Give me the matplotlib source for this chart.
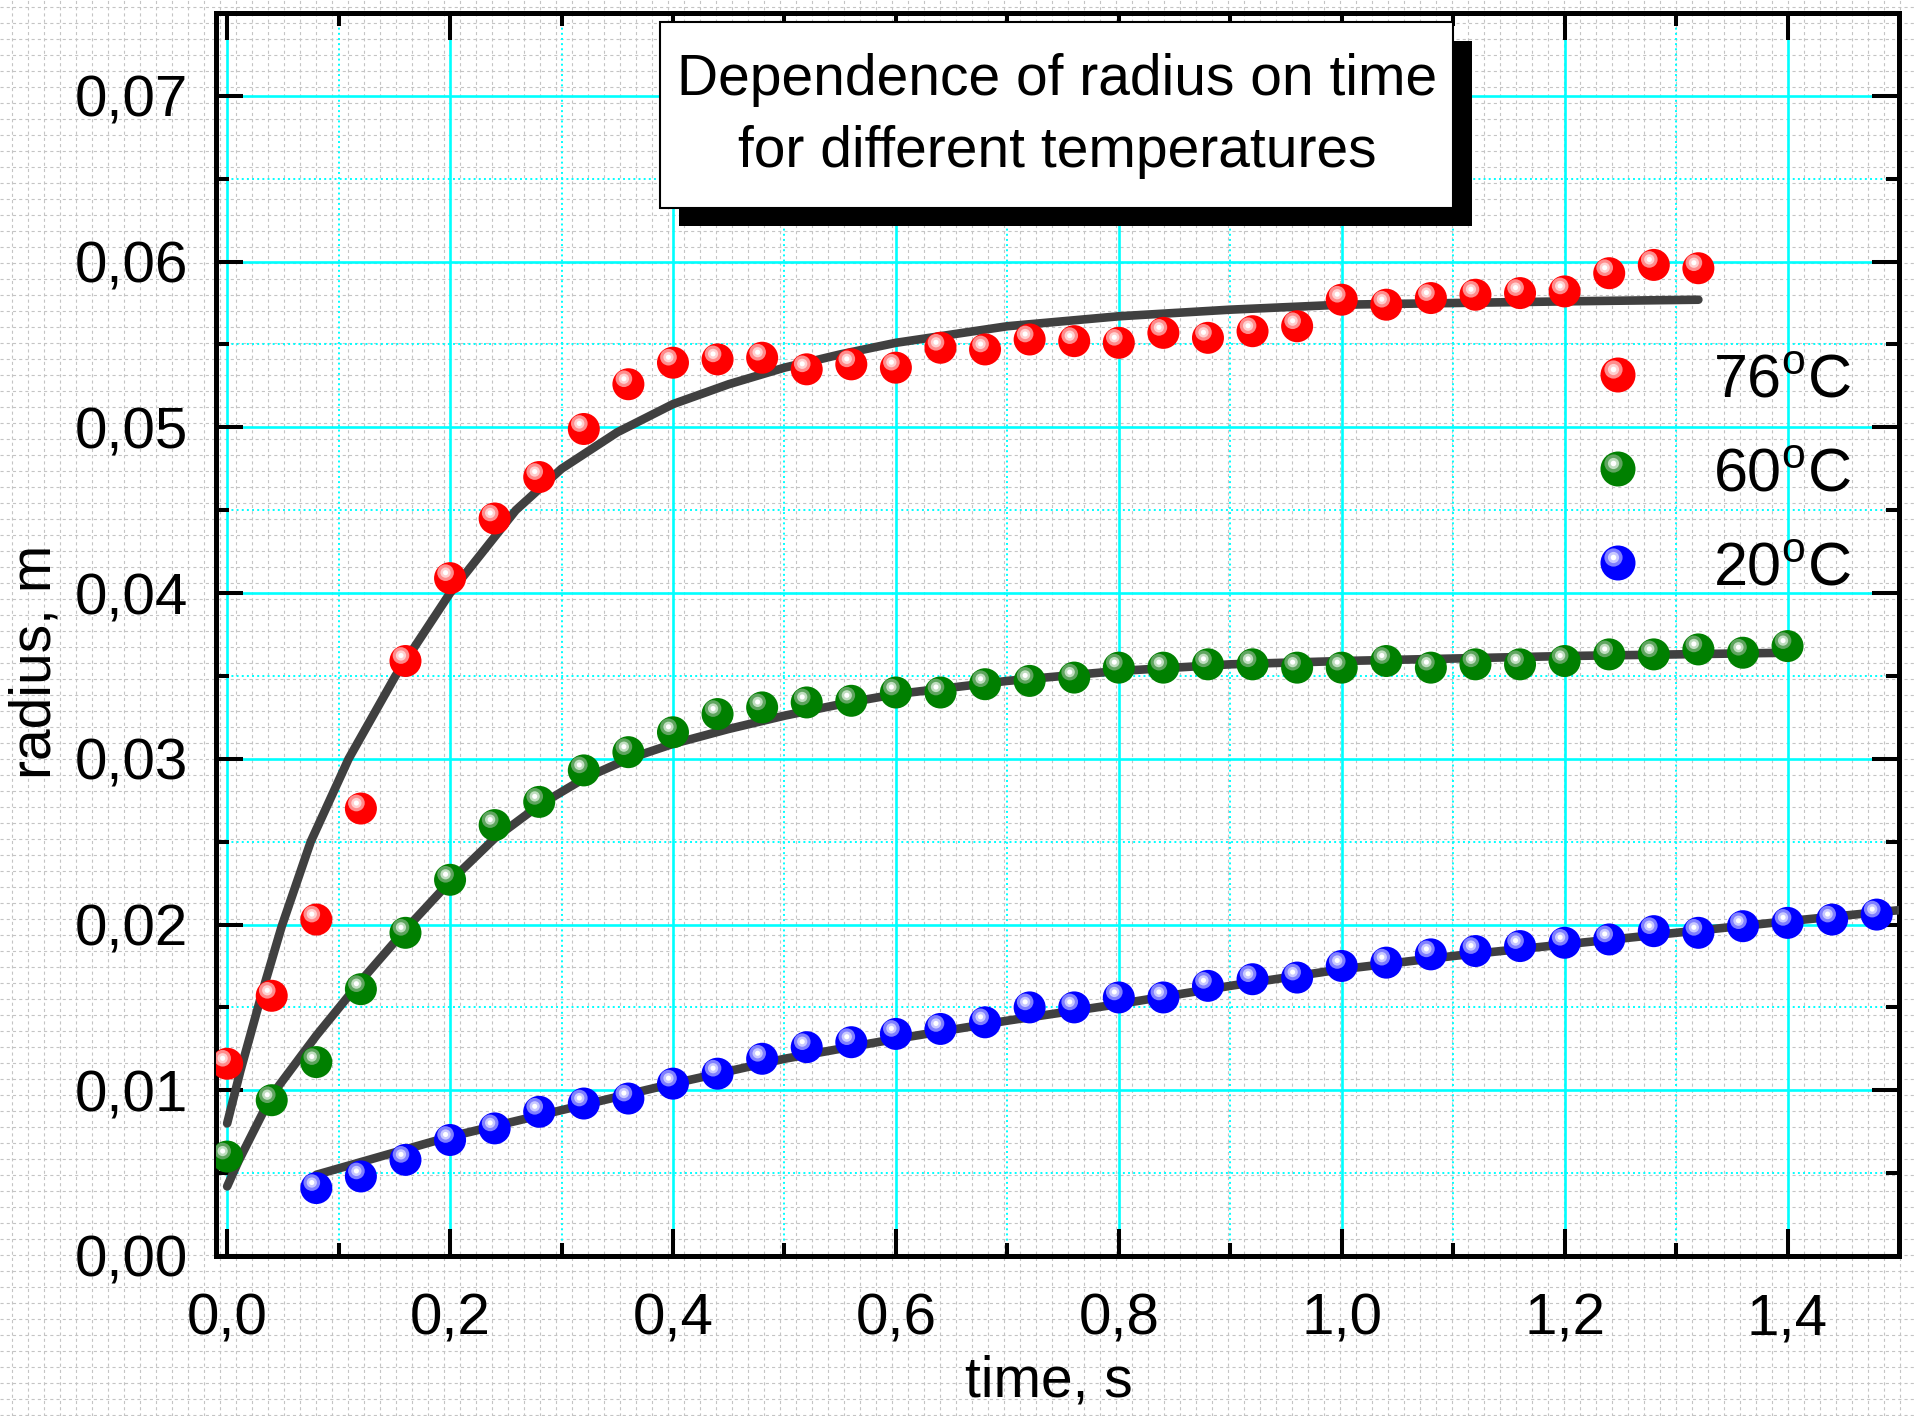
import numpy as np
import matplotlib
matplotlib.use('Agg')
import matplotlib.pyplot as plt
from matplotlib import transforms
from matplotlib.ticker import MultipleLocator
from matplotlib.patches import Rectangle

plt.rcParams['font.family'] = ['Liberation Sans', 'DejaVu Sans']
plt.rcParams['mathtext.fontset'] = 'custom'
plt.rcParams['mathtext.rm'] = 'Liberation Sans'

# ---------------- data ----------------
times = [0.00, 0.04, 0.08, 0.12, 0.16, 0.20, 0.24, 0.28, 0.32, 0.36, 0.40, 0.44,
         0.48, 0.52, 0.56, 0.60, 0.64, 0.68, 0.72, 0.76, 0.80, 0.84, 0.88, 0.92,
         0.96, 1.00, 1.04, 1.08, 1.12, 1.16, 1.20, 1.24, 1.28, 1.32, 1.36, 1.40,
         1.44, 1.48]

r76 = [0.0116, 0.0157, 0.0203, 0.0270, 0.0359, 0.0409, 0.0445, 0.0470, 0.0499,
       0.0526, 0.0539, 0.0541, 0.0542, 0.0535, 0.0538, 0.0536, 0.0548, 0.0547,
       0.0553, 0.0552, 0.0551, 0.0557, 0.0554, 0.0558, 0.0561, 0.0577, 0.0574,
       0.0578, 0.0580, 0.0581, 0.0582, 0.0593, 0.0598, 0.0596]
t76 = times[:34]

r60 = [0.0060, 0.0094, 0.0117, 0.0161, 0.0195, 0.0227, 0.0260, 0.0274, 0.0293,
       0.0304, 0.0316, 0.0327, 0.0331, 0.0334, 0.0335, 0.0340, 0.0340, 0.0345,
       0.0347, 0.0349, 0.0355, 0.0355, 0.0357, 0.0357, 0.0355, 0.0355, 0.0359,
       0.0355, 0.0357, 0.0357, 0.0359, 0.0363, 0.0363, 0.0366, 0.0364, 0.0368]
t60 = times[:36]

r20 = [0.0041, 0.0048, 0.0058, 0.0070, 0.0077, 0.0087, 0.0092, 0.0095, 0.0104,
       0.0110, 0.0119, 0.0126, 0.0129, 0.0134, 0.0137, 0.0141, 0.0150, 0.0150,
       0.0156, 0.0156, 0.0163, 0.0167, 0.0168, 0.0175, 0.0177, 0.0182, 0.0184,
       0.0187, 0.0189, 0.0191, 0.0196, 0.0195, 0.0199, 0.0201, 0.0203, 0.0206]
t20 = times[2:38]

# fitted curves
fit76_t = [0.000, 0.012, 0.031, 0.049, 0.075, 0.109, 0.151, 0.200, 0.259, 0.300,
           0.350, 0.400, 0.450, 0.500, 0.550, 0.600, 0.700, 0.800, 0.900, 1.000,
           1.100, 1.200, 1.320]
fit76_r = [0.0080, 0.0112, 0.0158, 0.0199, 0.0250, 0.0300, 0.0350, 0.0400, 0.0450,
           0.0475, 0.0497, 0.0514, 0.0526, 0.0536, 0.0544, 0.0551, 0.0561, 0.0567,
           0.0571, 0.0574, 0.0575, 0.0576, 0.0577]

fit60_t = [0.000, 0.010, 0.040, 0.080, 0.120, 0.160, 0.200, 0.240, 0.280, 0.320,
           0.360, 0.400, 0.450, 0.500, 0.558, 0.600, 0.700, 0.800, 0.900, 1.000,
           1.200, 1.400]
fit60_r = [0.0042, 0.0057, 0.0097, 0.0133, 0.0166, 0.0197, 0.0226, 0.0252, 0.0272,
           0.0288, 0.0300, 0.0309, 0.0318, 0.0326, 0.0334, 0.0339, 0.0347, 0.0353,
           0.0357, 0.0359, 0.0362, 0.0364]

fit20_t = [0.08, 0.20, 0.30, 0.40, 0.50, 0.60, 0.70, 0.80, 0.90, 1.00, 1.10,
           1.20, 1.30, 1.40, 1.52]
fit20_r = [0.0049, 0.0072, 0.0088, 0.0104, 0.0119, 0.0131, 0.0142, 0.0152, 0.0163,
           0.0173, 0.0181, 0.0188, 0.0195, 0.0202, 0.0210]

xticks = [0.0, 0.2, 0.4, 0.6, 0.8, 1.0, 1.2, 1.4]
xtick_labels = ['0,0', '0,2', '0,4', '0,6', '0,8', '1,0', '1,2', '1,4']
yticks = [0.00, 0.01, 0.02, 0.03, 0.04, 0.05, 0.06, 0.07]
ytick_labels = ['0,00', '0,01', '0,02', '0,03', '0,04', '0,05', '0,06', '0,07']

legend_labels = [r'76$^{\mathregular{o}}$C', r'60$^{\mathregular{o}}$C', r'20$^{\mathregular{o}}$C']
title_lines = ['Dependence of radius on time', 'for different temperatures']

# colours: base, highlight ring, inner highlight
styles = {
    '76': ('#FF0000', '#FF8C8C', '#FFD0D0'),
    '60': ('#008000', '#5FA55F', '#BFDDBF'),
    '20': ('#0000FF', '#8080FF', '#C8C8FF'),
}

# ---------------- figure ----------------
W, H = 1915, 1416
fig = plt.figure(figsize=(W / 100, H / 100), dpi=100)
fig.patch.set_facecolor('white')

# graph-paper background
bg = fig.add_axes([0, 0, 1, 1], zorder=0)
bg.set_xlim(0, W)
bg.set_ylim(H, 0)
bg.xaxis.set_major_locator(MultipleLocator(16, offset=11.7))
bg.yaxis.set_major_locator(MultipleLocator(16, offset=6.7))
bg.grid(True, color='#c4c4c4', lw=0.8, ls=(0, (2.8, 2.8)))
bg.tick_params(length=0, labelbottom=False, labelleft=False)
for s in bg.spines.values():
    s.set_visible(False)
bg.set_facecolor('white')

# main axes
L, R, T, B = 216, 1899, 13, 1256
ax = fig.add_axes([L / W, 1 - B / H, (R - L) / W, (B - T) / H], zorder=1)
ax.set_facecolor('none')
ax.set_xlim(-0.01, 1.5)
ax.set_ylim(0, 0.075)
ax.set_xticks(xticks, xtick_labels)
ax.set_yticks(yticks, ytick_labels)
ax.xaxis.set_minor_locator(MultipleLocator(0.1))
ax.yaxis.set_minor_locator(MultipleLocator(0.005))
ax.set_axisbelow(True)
ax.grid(which='major', color='#00FFFF', lw=1.9, ls='-')
ax.grid(which='minor', color='#00FFFF', lw=1.4, ls=':')
for s in ax.spines.values():
    s.set_linewidth(3.6)
ax.tick_params(which='both', direction='in', top=True, right=True, width=2.9,
               colors='black')
ax.tick_params(which='major', length=19.5)
ax.tick_params(which='minor', length=9.5)
ax.tick_params(axis='x', which='major', labelsize=42, pad=26)
ax.tick_params(axis='y', which='major', labelsize=42, pad=20)

ax.set_xlabel('time, s', fontsize=41)
ax.xaxis.set_label_coords((1049 - L) / (R - L), (B - 1382) / (B - T))
ax.xaxis.label.set_va('center')
ax.set_ylabel('radius, m', fontsize=41)
ax.yaxis.set_label_coords((36 - L) / (R - L), (B - 662) / (B - T))
ax.yaxis.label.set_va('center')

# fit curves
for ft, fr in [(fit76_t, fit76_r), (fit60_t, fit60_r), (fit20_t, fit20_r)]:
    ax.plot(ft, fr, color='#404040', lw=6.2, solid_capstyle='round',
            solid_joinstyle='round', zorder=3)


def sphere(axis, xs, ys, key, d_px, z=4, clip=True):
    base, c1, c2 = styles[key]
    sz = lambda px: (px * 0.72) ** 2
    off = transforms.offset_copy(axis.transData, fig=fig, x=-4.5, y=5.5, units='dots')
    axis.scatter(xs, ys, s=sz(d_px), c=base, edgecolors='none', zorder=z, clip_on=clip)
    axis.scatter(xs, ys, s=sz(d_px * 0.52), c=c1, edgecolors='none', zorder=z + 0.1,
                 transform=off, clip_on=clip)
    axis.scatter(xs, ys, s=sz(d_px * 0.32), c=c2, edgecolors='none', zorder=z + 0.2,
                 transform=off, clip_on=clip)
    axis.scatter(xs, ys, s=sz(d_px * 0.16), c='white', edgecolors='none', zorder=z + 0.3,
                 transform=off, clip_on=clip)


sphere(ax, t76, r76, '76', 32)
sphere(ax, t60, r60, '60', 32)
sphere(ax, t20, r20, '20', 32)

# overlay (title box + legend) in pixel coordinates
ov = fig.add_axes([0, 0, 1, 1], zorder=5)
ov.set_xlim(0, W)
ov.set_ylim(H, 0)
ov.axis('off')
ov.patch.set_alpha(0)

ov.add_patch(Rectangle((679, 41), 1472 - 679, 226 - 41, fc='black', ec='none', zorder=1))
ov.add_patch(Rectangle((660, 22), 1453 - 660, 208 - 22, fc='white', ec='black', lw=1.5, zorder=2))
ov.text(1057, 95, title_lines[0], ha='center', va='baseline', fontsize=41, zorder=3)
ov.text(1057, 167, title_lines[1], ha='center', va='baseline', fontsize=41, zorder=3)

for key, lab, yc in zip(['76', '60', '20'], legend_labels, [375, 469, 563]):
    sphere(ov, [1618], [yc], key, 35, z=3, clip=False)
    ov.text(1851, yc + 22, lab, ha='right', va='baseline', fontsize=44, zorder=3)

fig.savefig('out.png', dpi=100)
